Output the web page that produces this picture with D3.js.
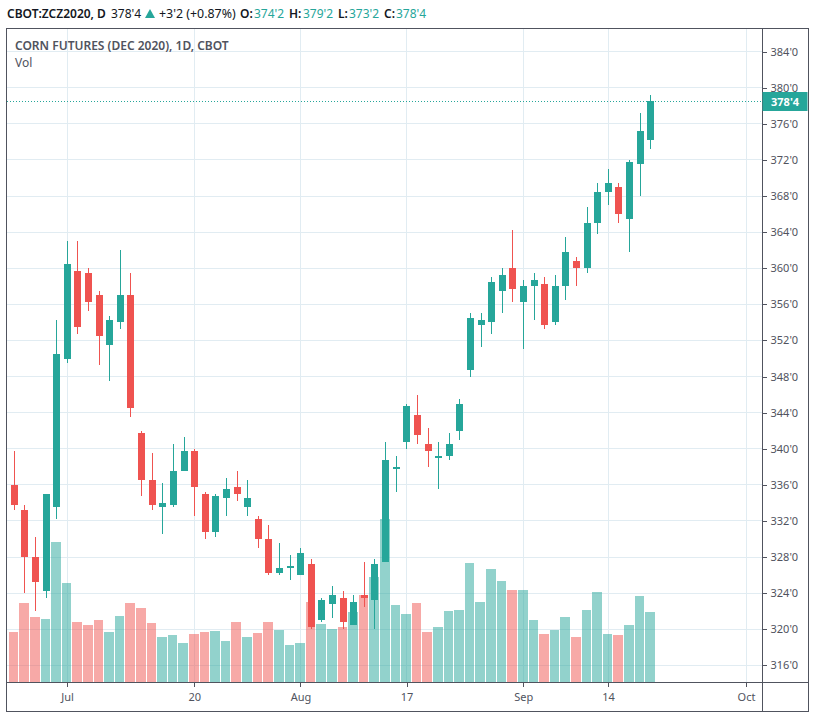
<!DOCTYPE html>
<html>
<head>
  <meta charset="utf-8">
  <title>Corn futures</title>
  <script src="https://d3js.org/d3.v7.min.js"></script>
  <style>
    body { margin: 0; background: #fff; }
    svg { display: block; }
    text { font-family: "Noto Sans", "Open Sans", sans-serif; }
  </style>
</head>
<body>
  <script>
    // trading days, the last ones (after Sep 18) only carry the time axis
    var days = ["Jun 24","Jun 25","Jun 26","Jun 29","Jun 30","Jul 1","Jul 2","Jul 6","Jul 7","Jul 8",
                "Jul 9","Jul 10","Jul 13","Jul 14","Jul 15","Jul 16","Jul 17","Jul 20","Jul 21","Jul 22",
                "Jul 23","Jul 24","Jul 27","Jul 28","Jul 29","Jul 30","Jul 31","Aug 3","Aug 4","Aug 5",
                "Aug 6","Aug 7","Aug 10","Aug 11","Aug 12","Aug 13","Aug 14","Aug 17","Aug 18","Aug 19",
                "Aug 20","Aug 21","Aug 24","Aug 25","Aug 26","Aug 27","Aug 28","Aug 31","Sep 1","Sep 2",
                "Sep 3","Sep 4","Sep 8","Sep 9","Sep 10","Sep 11","Sep 14","Sep 15","Sep 16","Sep 17",
                "Sep 18","Sep 21","Sep 22","Sep 23","Sep 24","Sep 25","Sep 28","Sep 29","Sep 30","Oct 1"];

    var opens = [336,333.25,328,324.25,333.5,350,359.75,359.5,357,351.5,
                 354,357,341.75,336.5,333.5,333.75,337.5,339.75,335,330.75,
                 334.5,335.75,333.5,332.25,330,326.25,326.75,326,327.25,321,
                 322.75,323.5,320.5,323.75,323.25,327.5,337.75,340.75,343.75,340.5,
                 339,339.25,342,348.75,353.75,354,357.5,360,356.25,358,
                 358.25,354,358,360.75,360,365,368.5,369,365.5,371.5,374.25];
    var highs = [339.75,333.75,330.25,335,354.25,363,363,360,357.5,354.75,
                 362,359.5,342,339.5,336.25,340.5,341.25,340,335.25,335,
                 336.75,337.5,336.5,332.5,331.5,329.5,328.25,329,327.75,323.5,
                 324.75,324.25,323.75,327.5,327.75,340.75,339.25,345,346,342.25,
                 340.75,341.75,345.5,355,355,359,360,364.25,358.75,359.5,
                 359,359.25,363.5,361.25,366.75,369.5,371,369.5,372,377.25,379.25];
    var lows = [333.25,324,322,323.5,332.25,349.5,352.75,355.25,349.25,347.5,
                353.25,343.5,334.75,333.25,330.5,333.5,337.5,332.5,330,330.25,
                332.5,334.25,332.5,329,326,326,325.5,326,320,320.75,
                321.25,320,320.5,322.5,320,327.5,335.25,340,340.5,338,
                335.5,338.75,341,348,351.25,352.75,355,356.25,351,354.25,
                353.25,353.75,356.5,358,359.5,363.75,367,365,361.75,368,373.25];
    var closes = [333.75,328,325.25,335,350.5,360.5,353.5,356.25,352.5,354.25,
                  357,344.5,336.5,333.75,334,337.5,339.75,335.75,330.75,334.75,
                  335.5,335,334.5,330,326.25,326.75,327,328.5,320.25,323.25,
                  323.75,320.75,323,323.5,327.25,338.75,338,344.75,341.5,339.75,
                  339.25,340.5,345,354.5,354.25,358.5,359.25,357.75,358,358.75,
                  353.75,358,361.75,360,365,368.5,369.5,366,371.75,375.25,378.5];
    // volume has no axis on the chart, read as relative height
    var volumes = [50,79,65,63,140,99,60,57,62,50,
                   66,79,74,59,45,47,39,48,50,51,
                   41,60,45,49,60,52,37,39,80,58,
                   53,55,70,87,105,163,77,68,79,50,
                   55,71,72,119,80,113,101,92,92,62,
                   48,52,65,45,72,90,48,47,57,86,70];

    var priceTicks = d3.range(316, 385, 4);
    var timeTicks = ["Jul 1","Jul 20","Aug 3","Aug 17","Sep 1","Sep 14","Oct 1"];
    var timeLabels = ["Jul","20","Aug","17","Sep","14","Oct"];
    var lastPrice = 378.5;

    var upColor = "#26a69a", downColor = "#ef5350", gridColor = "#e1ecf2",
        lineColor = "#50535e", textColor = "#50535e";
    var width = 815, height = 718;
    var left = 6.5, top_ = 28.5, right = 762.5, bottom = 682.5, outerRight = 808.5, outerBottom = 711.5;

    var x = d3.scalePoint().domain(days).range([14, 746]);
    var y = d3.scaleLinear().domain([316, 384]).range([665.3, 51.7]);
    var vol = d3.scaleLinear().domain([0, 100]).range([682, 582]);

    var svg = d3.select("body").append("svg")
      .attr("width", width)
      .attr("height", height);

    function candleX(d) { return Math.floor(x(d) + 0.3); }
    function isUp(i) { return closes[i] >= opens[i]; }
    var candles = opens.map(function(d, i) { return i; });

    // grid
    var grid = svg.append("g").attr("shape-rendering", "crispEdges").attr("stroke", gridColor);
    grid.selectAll(".h").data(priceTicks).enter().append("line")
      .attr("x1", left).attr("x2", right)
      .attr("y1", function(d) { return Math.floor(y(d)) + 0.5; })
      .attr("y2", function(d) { return Math.floor(y(d)) + 0.5; });
    grid.selectAll(".v").data(timeTicks).enter().append("line")
      .attr("y1", top_).attr("y2", bottom)
      .attr("x1", function(d) { return Math.floor(x(d)) + 0.5; })
      .attr("x2", function(d) { return Math.floor(x(d)) + 0.5; });

    // volume bars under the candles
    var step = x.step();
    svg.append("g").attr("shape-rendering", "crispEdges").selectAll("rect")
      .data(candles).enter().append("rect")
      .attr("x", function(i) { return Math.round(x(days[i]) - step / 2); })
      .attr("width", function(i) { return Math.round(x(days[i]) + step / 2) - Math.round(x(days[i]) - step / 2) - 1; })
      .attr("y", function(i) { return vol(volumes[i]); })
      .attr("height", function(i) { return vol(0) - vol(volumes[i]); })
      .attr("fill", function(i) { return isUp(i) ? upColor : downColor; })
      .attr("fill-opacity", 0.5);

    // candles
    var candleG = svg.append("g").attr("shape-rendering", "crispEdges");
    candleG.selectAll(".wick").data(candles).enter().append("rect")
      .attr("x", function(i) { return candleX(days[i]); })
      .attr("width", 1)
      .attr("y", function(i) { return Math.round(y(highs[i])); })
      .attr("height", function(i) { return Math.round(y(lows[i])) - Math.round(y(highs[i])); })
      .attr("fill", function(i) { return isUp(i) ? upColor : downColor; });
    candleG.selectAll(".body").data(candles).enter().append("rect")
      .attr("x", function(i) { return candleX(days[i]) - 3; })
      .attr("width", 7)
      .attr("y", function(i) { return Math.round(y(Math.max(opens[i], closes[i]))); })
      .attr("height", function(i) { return Math.round(y(Math.min(opens[i], closes[i]))) - Math.round(y(Math.max(opens[i], closes[i]))); })
      .attr("fill", function(i) { return isUp(i) ? upColor : downColor; });

    // last price line
    svg.append("line")
      .attr("x1", left).attr("x2", right)
      .attr("y1", Math.floor(y(lastPrice)) + 0.5).attr("y2", Math.floor(y(lastPrice)) + 0.5)
      .attr("stroke", upColor)
      .attr("stroke-dasharray", "1 2")
      .attr("shape-rendering", "crispEdges");

    // axes
    var priceAxis = d3.axisRight(y)
      .tickValues(priceTicks)
      .tickSize(4)
      .tickPadding(4)
      .tickFormat(function(d) { return d + "'0"; });
    var priceG = svg.append("g").attr("transform", "translate(" + right + ",0)").call(priceAxis);

    var timeAxis = d3.axisBottom(x)
      .tickValues(timeTicks)
      .tickSize(4)
      .tickPadding(7)
      .tickFormat(function(d) { return timeLabels[timeTicks.indexOf(d)]; });
    var timeG = svg.append("g").attr("transform", "translate(0," + bottom + ")").call(timeAxis);

    [priceG, timeG].forEach(function(g) {
      g.select(".domain").remove();
      g.selectAll("line").attr("stroke", lineColor).attr("shape-rendering", "crispEdges");
      g.selectAll("text").attr("fill", textColor).style("font-size", "11px");
    });

    // frame
    var frame = svg.append("g").attr("stroke", lineColor).attr("fill", "none").attr("shape-rendering", "crispEdges");
    frame.append("rect").attr("x", left).attr("y", top_)
      .attr("width", outerRight - left).attr("height", outerBottom - top_);
    frame.append("line").attr("x1", right).attr("x2", right).attr("y1", top_).attr("y2", outerBottom);
    frame.append("line").attr("x1", left).attr("x2", outerRight).attr("y1", bottom).attr("y2", bottom);

    // last price label
    svg.append("rect")
      .attr("x", right).attr("y", 92).attr("width", 45).attr("height", 19)
      .attr("fill", upColor);
    svg.append("text")
      .attr("x", 771).attr("y", 106)
      .attr("fill", "#fff")
      .attr("font-size", 11)
      .attr("font-weight", 700)
      .text("378'4");

    // header texts
    var headerDark = "#131722";
    var header = [
      { t: "CBOT:ZCZ2020, D", px: 7, c: headerDark, w: 600, s: 12 },
      { t: "378'4", px: 111, c: headerDark, w: 400, s: 12 },
      { t: "+3'2 (+0.87%)", px: 159, c: headerDark, w: 400, s: 12.4 },
      { t: "O:", px: 240, c: headerDark, w: 600, s: 12 },
      { t: "374'2", px: 254, c: upColor, w: 400, s: 12 },
      { t: "H:", px: 289, c: headerDark, w: 600, s: 12 },
      { t: "379'2", px: 303, c: upColor, w: 400, s: 12 },
      { t: "L:", px: 338, c: headerDark, w: 600, s: 12 },
      { t: "373'2", px: 349, c: upColor, w: 400, s: 12 },
      { t: "C:", px: 384, c: headerDark, w: 600, s: 12 },
      { t: "378'4", px: 396, c: upColor, w: 400, s: 12 }
    ];
    svg.append("g").selectAll("text").data(header).enter().append("text")
      .attr("x", function(d) { return d.px; })
      .attr("y", 18)
      .attr("font-size", function(d) { return d.s; })
      .attr("font-weight", function(d) { return d.w; })
      .attr("fill", function(d) { return d.c; })
      .text(function(d) { return d.t; });
    svg.append("path")
      .attr("d", d3.line()([[145, 18], [150, 9], [155, 18]]) + "Z")
      .attr("fill", upColor);

    svg.append("text")
      .attr("x", 15).attr("y", 50)
      .attr("font-size", 12).attr("font-weight", 600)
      .attr("fill", textColor)
      .text("CORN FUTURES (DEC 2020), 1D, CBOT");
    svg.append("text")
      .attr("x", 15).attr("y", 67)
      .attr("font-size", 12)
      .attr("fill", textColor)
      .text("Vol");
  </script>
</body>
</html>
